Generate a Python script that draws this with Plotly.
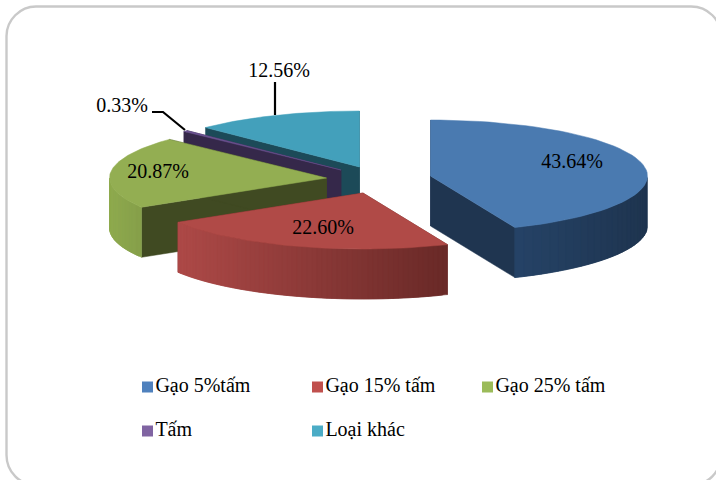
import numpy as np
import plotly.graph_objects as go

categories = ["Gạo 5%tấm", "Gạo 15% tấm", "Gạo 25% tấm", "Tấm", "Loại khác"]
values = [43.64, 22.60, 20.87, 0.33, 12.56]
labels = ["43.64%", "22.60%", "20.87%", "0.33%", "12.56%"]

top_colors = ["#4a7ab0", "#b04a47", "#93ae52", "#6b5290", "#43a0bb"]
legend_colors = ["#4f81bd", "#c0504d", "#9bbb59", "#8064a2", "#4bacc6"]
wall_colors = ["#1f3550", "#6e2c2a", "#404a22", "#35284a", "#1c4a58"]
apex_x = [430.5, 363, 326.5, 341, 359.5]
apex_y = [176, 193, 178, 170, 167]
label_x = [572, 323, 158, 122, 279]
label_y = [163, 229, 173, 107, 72]
RX, RY, DEPTH = 217, 56, 50
FONT = "Liberation Serif"

fig = go.Figure()


def poly(xs, ys, color):
    fig.add_trace(go.Scatter(x=xs, y=ys, mode="lines", fill="toself", fillcolor=color,
                             line=dict(width=0.5, color=color), hoverinfo="skip", showlegend=False))


def rgb(c):
    return np.array([int(c[i:i + 2], 16) for i in (1, 3, 5)], float)


def mix(a, b, t):
    v = rgb(a) * (1 - t) + rgb(b) * t
    return "rgb(%d,%d,%d)" % tuple(v)


fracs = np.array(values) / sum(values) * 2 * np.pi
ends = np.cumsum(fracs)
starts = ends - fracs
walls = [("#264468", "#1f3550"), ("#ae4a48", "#6a2a28"), ("#90ab50", "#86a04a"),
         ("#35284a", "#35284a"), ("#1c4a58", "#1c4a58")]

for i in [4, 3, 2, 1, 0]:
    cx, cy = apex_x[i], apex_y[i]
    t = np.linspace(starts[i], ends[i], 61)
    ax, ay = cx + RX * np.sin(t), cy - RY * np.cos(t)
    for a in (starts[i], ends[i]):
        ex, ey = cx + RX * np.sin(a), cy - RY * np.cos(a)
        poly([cx, ex, ex, cx, cx], [cy, ey, ey + DEPTH, cy + DEPTH, cy], wall_colors[i])
    idx = np.where(np.cos(t) < 0)[0]
    if len(idx) > 1:
        lo, hi = ax[idx].min(), ax[idx].max()
        for j in range(idx[0], idx[-1]):
            k = min(j + 2, idx[-1])  # strips overlap so no seams show
            u = (ax[j] - lo) / max(hi - lo, 1)
            col = mix(walls[i][0], walls[i][1], u)
            sx = ax[j:k + 1]
            sy = ay[j:k + 1]
            poly([*sx, *sx[::-1], sx[0]], [*sy, *(sy[::-1] + DEPTH), sy[0]], col)
    poly([cx, *ax, cx], [cy, *ay, cy], top_colors[i])

fig.add_trace(go.Scatter(x=[275, 275], y=[82, 115], mode="lines", line=dict(color="black", width=2.2),
                         hoverinfo="skip", showlegend=False))
fig.add_trace(go.Scatter(x=[152, 163, 185], y=[112, 112, 130], mode="lines", line=dict(color="black", width=2.2),
                         hoverinfo="skip", showlegend=False))

fig.add_trace(go.Scatter(x=label_x, y=label_y, mode="text", text=labels,
                         textfont=dict(family=FONT, size=20, color="black"),
                         hoverinfo="skip", showlegend=False))

legend_x = [147.5, 317.5, 487.5, 147.5, 317.5]
legend_y = [387, 387, 387, 431, 431]
for i, c in enumerate(categories):
    fig.add_trace(go.Scatter(x=[legend_x[i]], y=[legend_y[i]], mode="markers+text", text=[c],
                             textposition="middle right",
                             marker=dict(symbol="square", size=11, color=legend_colors[i]),
                             textfont=dict(family=FONT, size=20, color="black"),
                             name=c, hoverinfo="name", showlegend=False))

fig.update_layout(
    width=716, height=480, autosize=False,
    margin=dict(l=0, r=0, t=0, b=0),
    paper_bgcolor="white", plot_bgcolor="white",
    xaxis=dict(range=[0, 716], visible=False, fixedrange=True),
    yaxis=dict(range=[480, 0], visible=False, fixedrange=True),
    shapes=[dict(type="path", xref="x", yref="y", layer="below",
                 path="M 6.5 36 C 6.5 20 20 6.5 36 6.5 L 691 6.5 C 708 6.5 721 20 721 36 "
                      "L 721 455 C 721 472 708 485 691 485 L 36 485 C 20 485 6.5 472 6.5 455 Z",
                 line=dict(color="#c9c9c9", width=2.4))],
)
fig.write_html("out.html", config=dict(displayModeBar=False),
               post_script="document.body.style.margin='0';document.body.style.overflow='hidden';")
